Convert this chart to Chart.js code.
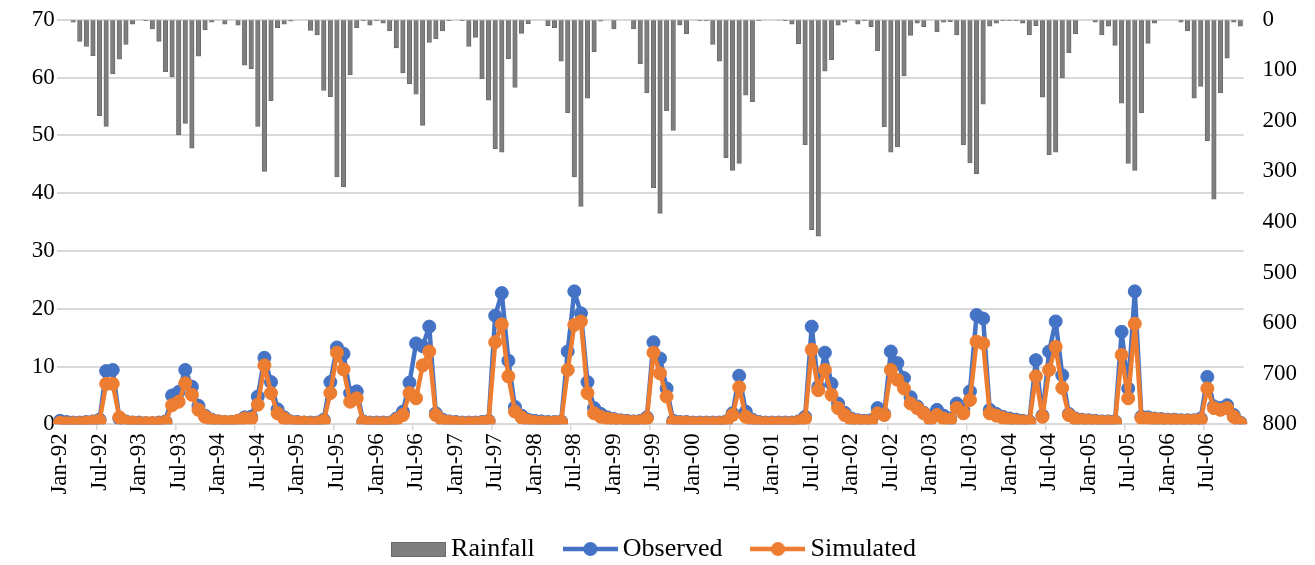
<!DOCTYPE html>
<html>
<head>
<meta charset="utf-8">
<script src="https://cdn.jsdelivr.net/npm/chart.js@4.4.1/dist/chart.umd.min.js"></script>
<style>
  html, body { margin: 0; padding: 0; background: #ffffff; }
  #wrap { width: 1315px; height: 565px; position: relative; }
</style>
</head>
<body>
<div id="wrap"><canvas id="c" width="1315" height="565"></canvas></div>
<script>
// ---- data ----
const monthNames = ['Jan','Feb','Mar','Apr','May','Jun','Jul','Aug','Sep','Oct','Nov','Dec'];
const yearNames = ['92','93','94','95','96','97','98','99','00','01','02','03','04','05','06'];
const categories = [];
yearNames.forEach(y => monthNames.forEach(m => categories.push(m + '-' + y)));

const rainfall = [
  0,0,5,43,53,71,190,211,107,78,49,9,
  0,2,18,43,103,113,228,205,254,72,20,5,
  0,9,0,11,90,97,211,300,160,16,9,3,
  0,0,21,30,140,152,311,330,109,16,2,11,
  2,7,22,56,105,127,147,209,45,38,22,2,
  0,2,53,35,117,159,255,262,77,134,27,8,
  0,0,12,16,82,184,311,369,155,63,3,0,
  18,0,0,18,87,145,332,383,180,219,11,28,
  0,2,2,49,82,273,298,284,149,162,2,0,
  0,1,2,9,48,247,415,428,102,79,11,5,
  0,9,2,14,61,212,262,251,111,31,7,14,
  0,24,5,4,30,247,283,305,167,13,7,2,
  2,2,7,30,12,153,267,262,115,65,28,0,
  0,5,30,13,51,165,284,298,184,47,7,0,
  0,0,5,22,155,132,239,355,145,76,5,13
];

const observed = [
  0.6,0.4,0.3,0.3,0.4,0.5,0.8,9.2,9.4,1.0,0.5,0.3,
  0.3,0.2,0.2,0.3,0.5,5.0,5.6,9.4,6.5,3.2,1.5,0.8,
  0.5,0.4,0.4,0.6,1.2,1.3,4.8,11.5,7.3,2.6,1.2,0.5,
  0.4,0.3,0.3,0.3,0.8,7.3,13.3,12.2,5.4,5.7,0.5,0.3,
  0.3,0.3,0.3,1.0,2.2,7.2,14.0,13.5,16.9,1.9,0.8,0.5,
  0.4,0.3,0.3,0.3,0.4,0.6,18.8,22.7,11.0,3.0,1.5,0.8,
  0.6,0.5,0.4,0.4,0.5,12.6,23.0,19.2,7.3,2.8,1.8,1.2,
  0.9,0.7,0.6,0.5,0.6,1.2,14.2,11.4,6.2,0.6,0.4,0.4,
  0.3,0.3,0.3,0.3,0.3,0.5,1.9,8.4,2.2,0.8,0.4,0.3,
  0.3,0.3,0.3,0.3,0.5,1.3,16.9,6.5,12.4,7.0,3.6,2.0,
  1.0,0.7,0.6,0.7,2.8,1.8,12.6,10.6,8.0,4.7,3.1,2.0,
  1.0,2.5,1.5,1.0,3.6,2.5,5.7,18.9,18.3,2.5,1.8,1.3,
  1.0,0.8,0.6,0.5,11.1,1.5,12.6,17.8,8.5,1.8,1.0,0.8,
  0.7,0.6,0.5,0.5,0.5,16.0,6.2,23.0,1.3,1.2,1.0,0.9,
  0.8,0.8,0.7,0.7,0.7,1.0,8.2,3.1,2.8,3.3,1.6,0.3
];

const simulated = [
  0.3,0.2,0.2,0.2,0.3,0.4,0.6,7.0,7.0,1.2,0.4,0.3,
  0.2,0.2,0.2,0.2,0.4,3.3,3.9,7.1,5.1,2.5,1.3,0.7,
  0.5,0.4,0.4,0.6,1.0,1.0,3.4,10.2,5.4,1.9,1.0,0.4,
  0.3,0.3,0.2,0.2,0.6,5.4,12.4,9.5,3.9,4.5,0.4,0.2,
  0.2,0.2,0.2,0.8,1.6,5.4,4.5,10.2,12.6,1.6,0.6,0.4,
  0.3,0.2,0.2,0.2,0.3,0.5,14.2,17.3,8.3,2.2,1.2,0.6,
  0.4,0.3,0.3,0.3,0.4,9.4,17.2,17.8,5.4,1.9,1.3,1.0,
  0.8,0.6,0.5,0.4,0.5,1.0,12.4,8.8,4.8,0.4,0.3,0.3,
  0.2,0.2,0.2,0.2,0.2,0.4,1.6,6.4,1.3,0.6,0.3,0.2,
  0.2,0.2,0.2,0.2,0.4,1.0,12.9,5.9,9.4,5.1,2.8,1.6,
  0.8,0.6,0.5,0.5,1.9,1.6,9.4,7.7,6.2,3.6,2.8,1.9,
  0.8,1.6,1.0,0.8,2.8,1.9,4.2,14.3,14.0,1.9,1.5,1.1,
  0.8,0.6,0.5,0.4,8.3,1.3,9.4,13.4,6.3,1.6,0.9,0.7,
  0.6,0.5,0.4,0.4,0.4,12.0,4.5,17.4,1.1,1.0,0.9,0.8,
  0.7,0.7,0.6,0.6,0.6,0.8,6.2,2.8,2.5,2.8,1.3,0.2
];

const seriesNames = ['Rainfall', 'Observed', 'Simulated'];
const labelEvery = 6;

// ---- styling ----
const FONT = "'Liberation Serif', 'Times New Roman', serif";
const TICK_SIZE = 23;
const LEGEND_SIZE = 26;
const GRID = '#d9d9d9';
const BAR = '#7f7f7f';
const BLUE = '#4472C4';
const ORANGE = '#ED7D31';
const CLEAR = 'rgba(0,0,0,0)';

function legendIcon(kind, color) {
  const c = document.createElement('canvas');
  c.width = 55; c.height = 22;
  const g = c.getContext('2d');
  if (kind === 'bar') {
    g.fillStyle = color;
    g.fillRect(0, 4, 55, 15);
    g.strokeStyle = '#6a6a6a';
    g.lineWidth = 1;
    g.strokeRect(0.5, 4.5, 54, 14);
  } else {
    g.strokeStyle = color;
    g.lineWidth = 4.5;
    g.beginPath(); g.moveTo(0, 11); g.lineTo(55, 11); g.stroke();
    g.fillStyle = color;
    g.beginPath(); g.arc(27.5, 11, 7, 0, Math.PI * 2); g.fill();
  }
  return c;
}
const icons = [legendIcon('bar', BAR), legendIcon('line', BLUE), legendIcon('line', ORANGE)];

new Chart(document.getElementById('c'), {
  data: {
    labels: categories,
    datasets: [
      {
        type: 'bar', label: seriesNames[0], data: rainfall, yAxisID: 'yR', order: 3,
        backgroundColor: BAR, borderColor: '#6c6c6c', borderWidth: 1,
        barThickness: 4.5
      },
      {
        type: 'line', label: seriesNames[1], data: observed, yAxisID: 'y', order: 2,
        borderColor: BLUE, backgroundColor: BLUE, borderWidth: 4.5,
        borderJoinStyle: 'round', borderCapStyle: 'round',
        pointRadius: 6.5, pointBackgroundColor: BLUE, pointBorderColor: BLUE, pointBorderWidth: 1,
        tension: 0, pointStyle: 'circle'
      },
      {
        type: 'line', label: seriesNames[2], data: simulated, yAxisID: 'y', order: 1,
        borderColor: ORANGE, backgroundColor: ORANGE, borderWidth: 4.5,
        borderJoinStyle: 'round', borderCapStyle: 'round',
        pointRadius: 6.5, pointBackgroundColor: ORANGE, pointBorderColor: ORANGE, pointBorderWidth: 1,
        tension: 0, pointStyle: 'circle'
      }
    ]
  },
  options: {
    responsive: false,
    animation: false,
    maintainAspectRatio: false,
    layout: { padding: { top: 19.7, left: 0, right: 0, bottom: -7 } },
    plugins: {
      tooltip: { enabled: false },
      legend: {
        position: 'bottom',
        labels: {
          font: { family: FONT, size: LEGEND_SIZE },
          color: '#000',
          usePointStyle: true,
          pointStyleWidth: 39,
          padding: 36,
          generateLabels: (chart) => chart.data.datasets.map((ds, i) => ({
            text: ds.label,
            pointStyle: icons[i],
            fillStyle: 'transparent',
            strokeStyle: 'transparent',
            lineWidth: 0,
            hidden: false,
            datasetIndex: i,
            fontColor: '#000'
          }))
        }
      }
    },
    scales: {
      x: {
        type: 'category',
        offset: true,
        grid: {
          offset: true,
          drawOnChartArea: false,
          drawTicks: true,
          tickLength: 6,
          color: (ctx) => (ctx.index % 12 === 6 ? GRID : CLEAR),
          lineWidth: 1.5
        },
        border: { display: true, color: GRID, width: 2 },
        ticks: {
          autoSkip: false,
          minRotation: 90, maxRotation: 90,
          padding: 3,
          font: { family: FONT, size: TICK_SIZE },
          color: '#000',
          callback: (v, i) => (i % labelEvery === 0 ? categories[i] : '')
        },
        afterFit: (s) => { s.height = 75.7; }
      },
      y: {
        position: 'left',
        min: 0, max: 70,
        ticks: { stepSize: 10, font: { family: FONT, size: TICK_SIZE }, color: '#000', padding: 2 },
        grid: { color: GRID, lineWidth: 2, drawTicks: false },
        border: { display: false },
        afterFit: (s) => { s.width = 56.7; }
      },
      yR: {
        position: 'right',
        reverse: true,
        min: 0, max: 800,
        ticks: { stepSize: 100, font: { family: FONT, size: TICK_SIZE }, color: '#000', padding: 4 },
        grid: { drawOnChartArea: false, drawTicks: true, tickLength: 15, color: CLEAR },
        border: { display: false },
        afterFit: (s) => { s.width = 71.4; }
      }
    }
  }
});
</script>
</body>
</html>
